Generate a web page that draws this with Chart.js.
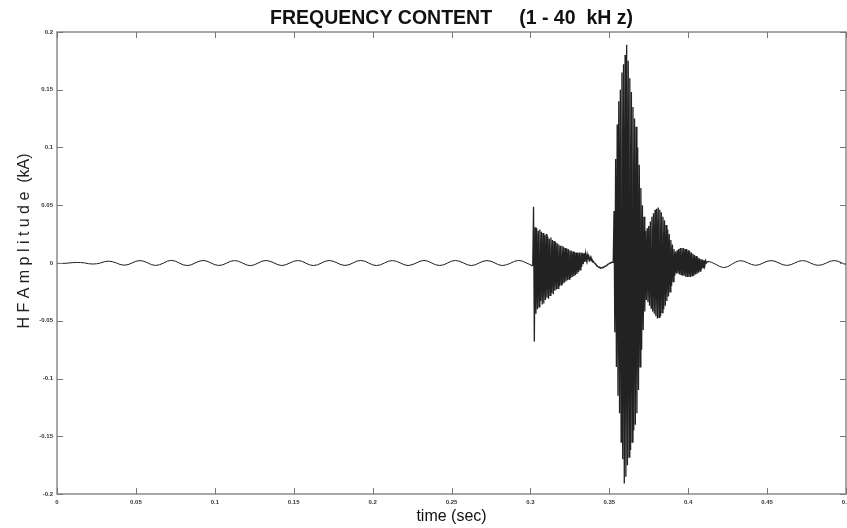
<!DOCTYPE html>
<html>
<head>
<meta charset="utf-8">
<title>Frequency content</title>
<script src="https://cdn.jsdelivr.net/npm/chart.js@4/dist/chart.umd.min.js"></script>
<style>
    html, body { margin: 0; padding: 0; background: #fff; }
    #wrap { width: 847px; height: 528px; }
</style>
</head>
<body>
<div id="wrap"><canvas id="hfaChart" width="847" height="528"></canvas></div>
<script>
// Tick labels as printed on the figure
const xTickLabels = ['0', '0.05', '0.1', '0.15', '0.2', '0.25', '0.3', '0.35', '0.4', '0.45', '0.5'];
const yTickLabels = ['-0.2', '-0.15', '-0.1', '-0.05', '0', '0.05', '0.1', '0.15', '0.2'];

const chartTitle = 'FREQUENCY CONTENT     (1 - 40  kH z)';
const xAxisTitle = 'time (sec)';
const yAxisTitle = 'H F A m p l i t u d e  (kA)';

// Quiet part before the event: 0 .. 0.2975 s, one sample every 2.5 ms (kA)
const quietStart = 0;
const quietStep = 0.0025;
const quietValues = [
    -0.0003, -0.0004, -0.0003, 0.0000, 0.0003, 0.0005, 0.0004, 0.0001,
    -0.0006, -0.0009, -0.0007, 0.0000, 0.0011, 0.0016, 0.0012, 0.0001,
    -0.0013, -0.0019, -0.0014, 0.0000, 0.0015, 0.0021, 0.0015, 0.0001,
    -0.0015, -0.0021, -0.0015, -0.0001, 0.0016, 0.0023, 0.0016, 0.0000,
    -0.0016, -0.0022, -0.0016, 0.0000, 0.0015, 0.0022, 0.0016, 0.0001,
    -0.0015, -0.0021, -0.0016, -0.0001, 0.0015, 0.0021, 0.0015, 0.0000,
    -0.0016, -0.0023, -0.0016, 0.0000, 0.0016, 0.0022, 0.0015, 0.0001,
    -0.0015, -0.0022, -0.0015, 0.0000, 0.0015, 0.0021, 0.0016, 0.0000,
    -0.0016, -0.0022, -0.0016, -0.0001, 0.0015, 0.0022, 0.0015, 0.0001,
    -0.0015, -0.0021, -0.0015, 0.0000, 0.0016, 0.0022, 0.0016, 0.0000,
    -0.0016, -0.0022, -0.0016, 0.0000, 0.0015, 0.0021, 0.0015, 0.0001,
    -0.0015, -0.0022, -0.0015, -0.0001, 0.0015, 0.0022, 0.0016, 0.0000,
    -0.0016, -0.0021, -0.0016, 0.0000, 0.0016, 0.0022, 0.0015, 0.0001,
    -0.0015, -0.0022, -0.0016, 0.0000, 0.0015, 0.0021, 0.0015, 0.0000,
    -0.0016, -0.0022, -0.0015, -0.0001, 0.0015, 0.0022, 0.0016, 0.0000
];

// The event itself: 0.300 .. 0.412 s, one sample every 0.5 ms (kA)
const burstStart = 0.300;
const burstStep = 0.0005;
const burstValues = [
    // 0.300 - first arc, spike at 0.302 s
    -0.0015, -0.0018, -0.0020, -0.0018, 0.0488, -0.0680, 0.0310, -0.0440, 0.0300, -0.0400,
    0.0280, -0.0380, 0.0290, -0.0330, 0.0270, -0.0360, 0.0260, -0.0350, 0.0240, -0.0320,
    // 0.310
    0.0250, -0.0300, 0.0230, -0.0310, 0.0210, -0.0280, 0.0220, -0.0260, 0.0200, -0.0270,
    0.0190, -0.0240, 0.0180, -0.0230, 0.0170, -0.0220, 0.0160, -0.0200, 0.0150, -0.0190,
    // 0.320
    0.0150, -0.0180, 0.0140, -0.0170, 0.0130, -0.0160, 0.0125, -0.0150, 0.0120, -0.0140,
    0.0110, -0.0130, 0.0105, -0.0120, 0.0100, -0.0115, 0.0095, -0.0105, 0.0090, -0.0095,
    // 0.330 - slow swing after the first arc
    0.0088, -0.0080, 0.0090, -0.0060, 0.0090, -0.0035, 0.0088, -0.0010, 0.0085, 0.0010,
    0.0080, 0.0025, 0.0072, 0.0030, 0.0060, 0.0025, 0.0048, 0.0018, 0.0032, 0.0010,
    // 0.340
    0.0015, 0.0000, -0.0005, -0.0015, -0.0020, -0.0030, -0.0032, -0.0040, -0.0038, -0.0044,
    -0.0040, -0.0043, -0.0037, -0.0038, -0.0030, -0.0030, -0.0022, -0.0020, -0.0012, -0.0010,
    // 0.350 - main arc from 0.353 s
    -0.0004, 0.0000, 0.0004, 0.0006, 0.0008, 0.0006, 0.0450, -0.0600, 0.0900, -0.0900,
    0.1200, -0.1150, 0.1400, -0.1300, 0.1500, -0.1550, 0.1650, -0.1700, 0.1720, -0.1910,
    // 0.360
    0.1800, -0.1850, 0.1890, -0.1750, 0.1750, -0.1680, 0.1600, -0.1620, 0.1480, -0.1550,
    0.1350, -0.1450, 0.1250, -0.1400, 0.1180, -0.1300, 0.1000, -0.1100, 0.0850, -0.0900,
    // 0.370 - third arc from 0.373 s
    0.0650, -0.0750, 0.0500, -0.0580, 0.0400, -0.0420, 0.0280, -0.0320, 0.0300, -0.0340,
    0.0320, -0.0370, 0.0360, -0.0390, 0.0400, -0.0420, 0.0430, -0.0440, 0.0460, -0.0460,
    // 0.380
    0.0470, -0.0480, 0.0480, -0.0470, 0.0460, -0.0460, 0.0440, -0.0430, 0.0400, -0.0400,
    0.0370, -0.0370, 0.0330, -0.0330, 0.0290, -0.0290, 0.0250, -0.0250, 0.0200, -0.0200,
    // 0.390 - small tail from 0.393 s
    0.0160, -0.0160, 0.0120, -0.0110, 0.0100, -0.0090, 0.0110, -0.0090, 0.0120, -0.0100,
    0.0130, -0.0100, 0.0130, -0.0110, 0.0130, -0.0110, 0.0120, -0.0120, 0.0120, -0.0120,
    // 0.400
    0.0110, -0.0120, 0.0100, -0.0120, 0.0090, -0.0110, 0.0080, -0.0110, 0.0070, -0.0100,
    0.0060, -0.0095, 0.0050, -0.0085, 0.0040, -0.0070, 0.0035, -0.0055, 0.0030, -0.0040,
    // 0.410
    0.0025, -0.0025, 0.0020, 0.0000, 0.0010
];

// Quiet part after the event: 0.4125 .. 0.5 s, one sample every 2.5 ms (kA)
const afterStart = 0.4125;
const afterStep = 0.0025;
const afterValues = [
    0.0015, 0.0005, -0.0012, -0.0030, -0.0040, -0.0032, -0.0012, 0.0008,
    0.0020, 0.0016, 0.0003, -0.0012, -0.0020, -0.0015, 0.0000, 0.0015,
    0.0021, 0.0015, 0.0000, -0.0015, -0.0021, -0.0015, 0.0000, 0.0015,
    0.0021, 0.0015, 0.0000, -0.0015, -0.0020, -0.0015, 0.0000, 0.0015,
    0.0021, 0.0015, 0.0000, -0.0015
];

// Turn a sampled block into {x, y} points
function samples(start, step, values) {
    return values.map((v, i) => ({ x: +(start + i * step).toFixed(4), y: v }));
}

const quietPoints = samples(quietStart, quietStep, quietValues);
const burstPoints = samples(burstStart, burstStep, burstValues);
const afterPoints = samples(afterStart, afterStep, afterValues);

// join the blocks so the trace is one unbroken line
quietPoints.push(burstPoints[0]);
burstPoints.push(afterPoints[0]);

const fontFamily = '"Liberation Sans", Arial, sans-serif';

// MATLAB style box with inward tick marks, the title and the rotated y label
const boxPlugin = {
    id: 'boxPlugin',
    afterDraw(chart) {
        const ctx = chart.ctx;
        const area = chart.chartArea;
        const xs = chart.scales.x;
        const ys = chart.scales.y;
        const tick = 6;

        ctx.save();
        ctx.strokeStyle = '#8a8a8a';
        ctx.lineWidth = 1.5;
        ctx.strokeRect(area.left, area.top, area.right - area.left, area.bottom - area.top);

        ctx.lineWidth = 1;
        ctx.strokeStyle = '#777';
        ctx.beginPath();
        xs.ticks.forEach(t => {
            const px = Math.round(xs.getPixelForValue(t.value)) + 0.5;
            ctx.moveTo(px, area.bottom);
            ctx.lineTo(px, area.bottom - tick);
            ctx.moveTo(px, area.top);
            ctx.lineTo(px, area.top + tick);
        });
        ys.ticks.forEach(t => {
            const py = Math.round(ys.getPixelForValue(t.value)) + 0.5;
            ctx.moveTo(area.left, py);
            ctx.lineTo(area.left + tick, py);
            ctx.moveTo(area.right, py);
            ctx.lineTo(area.right - tick, py);
        });
        ctx.stroke();

        ctx.fillStyle = '#111';
        ctx.textAlign = 'center';
        ctx.textBaseline = 'middle';
        ctx.font = 'bold 19.5px ' + fontFamily;
        ctx.fillText(chartTitle, (area.left + area.right) / 2, 18.5);

        ctx.translate(25, 241);
        ctx.rotate(-Math.PI / 2);
        ctx.font = '16px ' + fontFamily;
        ctx.fillStyle = '#222';
        ctx.fillText(yAxisTitle, 0, 0);
        ctx.restore();
    }
};

const ctx = document.getElementById('hfaChart').getContext('2d');

const lineStyle = { borderColor: '#1e1e1e', borderWidth: 1, pointRadius: 0, tension: 0, fill: false };

const hfaChart = new Chart(ctx, {
    type: 'line',
    data: {
        datasets: [
            { ...lineStyle, label: 'before', data: quietPoints },
            { ...lineStyle, label: 'event', data: burstPoints, borderColor: '#222', borderWidth: 1.3 },
            { ...lineStyle, label: 'after', data: afterPoints }
        ]
    },
    options: {
        responsive: false,
        animation: false,
        events: [],
        layout: {
            padding: { left: 0, right: 1, top: 32, bottom: 0 }
        },
        plugins: {
            legend: { display: false },
            tooltip: { enabled: false },
            title: { display: false }
        },
        scales: {
            x: {
                type: 'linear',
                min: 0,
                max: 0.5,
                grid: { display: false, drawTicks: false },
                border: { display: false },
                ticks: {
                    stepSize: 0.05,
                    padding: 5,
                    maxRotation: 0,
                    autoSkip: false,
                    color: '#333',
                    font: { family: fontFamily, size: 6, weight: 'bold' },
                    callback: (value) => xTickLabels[Math.round(value / 0.05)]
                },
                title: {
                    display: true,
                    text: xAxisTitle,
                    color: '#111',
                    font: { family: fontFamily, size: 16 },
                    padding: { top: 0, bottom: 1.5 }
                },
                afterFit(scale) {
                    scale.height = 34;
                    scale.paddingRight = 0;
                    scale.paddingLeft = 0;
                }
            },
            y: {
                min: -0.2,
                max: 0.2,
                grid: { display: false, drawTicks: false },
                border: { display: false },
                ticks: {
                    stepSize: 0.05,
                    padding: 4,
                    color: '#333',
                    font: { family: fontFamily, size: 6, weight: 'bold' },
                    callback: (value) => yTickLabels[Math.round((value + 0.2) / 0.05)]
                },
                afterFit(scale) {
                    scale.width = 57;
                    scale.paddingTop = 0;
                    scale.paddingBottom = 0;
                }
            }
        }
    },
    plugins: [boxPlugin]
});
</script>
</body>
</html>
